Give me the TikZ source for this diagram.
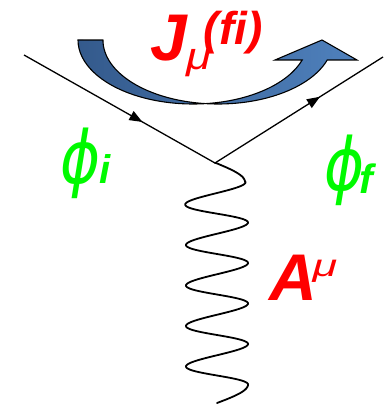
\documentclass[tikz,border=0pt]{standalone}
\usepackage{fontspec}
\setmainfont{Liberation Sans}
\newfontfamily\phifont{DejaVu Sans}
\usetikzlibrary{arrows.meta,decorations.markings}
\definecolor{lblue}{RGB}{79,129,189}
\definecolor{dblue}{RGB}{52,90,140}
\definecolor{lgreen}{RGB}{0,250,0}
\definecolor{lred}{RGB}{255,0,0}
\tikzset{
  fermion/.style={line width=1.3pt, postaction={decorate, decoration={markings,
      mark=at position #1 with {\arrow{Triangle[length=13pt,width=10pt]}}}}},
  wiggle/.style={line width=1.8pt, line join=round, line cap=round},
  currentarrow/.style={left color=dblue, right color=lblue, draw=black, line width=1.1pt, line join=miter},
  lbl/.style={anchor=base west, inner sep=0pt, outer sep=0pt},
}
\newcommand{\philetter}{\raisebox{\depth}{\scalebox{1.05}[1.26]{\phifont\itshape\fontsize{58}{58}\selectfont ϕ}}}
\begin{document}
\begin{tikzpicture}[x=1pt,y=-1pt]
\useasboundingbox (0,0) rectangle (383,404);
% current arrow
\path[currentarrow] (78,40)
  arc[start angle=180, end angle=83.76, x radius=115, y radius=64]
  arc[start angle=96.24, end angle=18.21, x radius=115, y radius=64]
  -- (357,60) -- (322,40) -- (275,60) -- (302.2,60)
  arc[start angle=18.21, end angle=83.76, x radius=115, y radius=64]
  arc[start angle=96.24, end angle=180, x radius=115, y radius=64]
  -- cycle;
% vertex and legs
\coordinate (in) at (24,55);
\coordinate (v) at (215,163);
\coordinate (out) at (383,57);
\draw[fermion=0.62] (in) -- (v);
\draw[fermion=0.625] (v) -- (out);
% photon
\draw[wiggle] (v)
  -- plot[domain=0:90, samples=20] ({216+29*sin(\x)}, {163+\x/90*19})
  -- plot[domain=90:450, samples=100] ({216+(29+\x/450*3)*sin(\x)}, {173+\x/360*40.5-1.1*sin(\x)})
  -- plot[domain=450:1890, samples=400] ({217+31*sin(\x)}, {173+\x/360*40.5-1.1*sin(\x)})
  -- plot[domain=1890:1980, samples=20] ({217+31*sin(\x)}, {384.5+(\x-1890)/90*18.5});
% labels
\node[lbl, text=lred, font=\bfseries\itshape\fontsize{66}{66}\selectfont] (J) at (150,61)
  {J\rlap{\raisebox{-9pt}{\mdseries\fontsize{38}{38}\selectfont\scalebox{1.2}[1]{μ}}}\kern17pt\raisebox{17pt}{\fontsize{46}{46}\selectfont (f\kern0pt i)}};
\node[lbl, text=lred, font=\bfseries\itshape\fontsize{66}{66}\selectfont] (A) at (269,300)
  {A\kern-4pt\raisebox{24pt}{\mdseries\fontsize{31}{31}\selectfont\scalebox{1.45}[1]{μ}}};
\node[lbl, text=lgreen] (phii) at (60,199)
  {\rlap{\philetter}\kern39pt\raisebox{16pt}{\bfseries\itshape\fontsize{40}{40}\selectfont i}};
\node[lbl, text=lgreen] (phif) at (324,206)
  {\rlap{\philetter}\kern35pt\raisebox{13pt}{\bfseries\itshape\fontsize{41}{41}\selectfont f}};
\end{tikzpicture}
\end{document}
